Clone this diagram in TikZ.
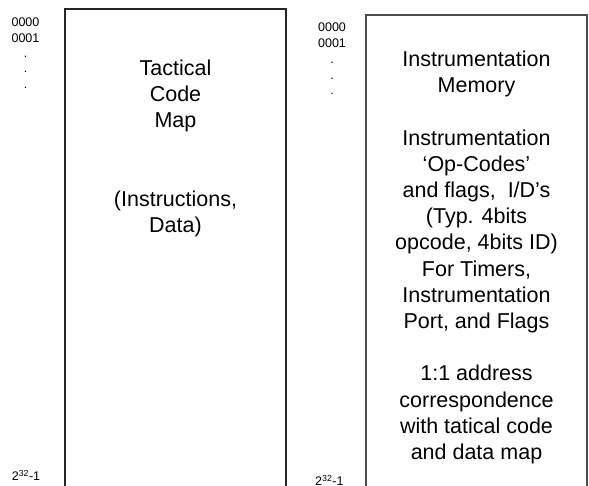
\documentclass[tikz,border=0pt]{standalone}
\usepackage{fontspec}
\setmainfont{Liberation Sans}
\begin{document}
\begin{tikzpicture}[x=1pt,y=-1pt,
  boxline/.style={line width=1.1pt,draw=black!85},
  bigtext/.style={font=\fontsize{21.5}{26.2}\selectfont,align=center,inner sep=0pt,anchor=north},
  addr/.style={font=\fontsize{12.5}{15.4}\selectfont,align=center,inner sep=0pt,anchor=north},
  addrend/.style={font=\fontsize{12.5}{15}\selectfont,inner sep=0pt,anchor=base west}]
\useasboundingbox (0,0) rectangle (589,485);
% boxes
\coordinate (b1bl) at (65,492);
\coordinate (b1tl) at (65,9);
\coordinate (b1tr) at (286,9);
\coordinate (b1br) at (286,492);
\coordinate (b2bl) at (366,492);
\coordinate (b2tl) at (366,15);
\coordinate (b2tr) at (587,15);
\coordinate (b2br) at (587,492);
\draw[boxline] (b1bl) -- (b1tl) -- (b1tr) -- (b1br);
\draw[boxline,draw=black!70] (b2bl) -- (b2tl) -- (b2tr) -- (b2br);
% box texts
\node[bigtext] (t1) at (175.5,59.6) {Tactical\\Code\\Map\\[52.4pt](Instructions,\\Data)};
\node[bigtext] (t2) at (476.5,50.7) {Instrumentation\\Memory\\[26.2pt]Instrumentation\\`Op-Codes'\\and flags,\ \ I/D's\\(Typ. 4bits\\opcode, 4bits ID)\\For Timers,\\Instrumentation\\Port, and Flags\\[26.2pt]1:1 address\\correspondence\\with tatical code\\and data map};
% address labels
\node[addr] (a1) at (25.5,17.7) {0000\\0001\\.\\.\\.};
\node[addr,font=\fontsize{12.5}{15.8}\selectfont] (a2) at (332,22.7) {0000\\0001\\.\\.\\.};
\node[addrend] (e1) at (11.7,480.7) {2\textsuperscript{32}-1};
\node[addrend] (e2) at (315,485.7) {2\textsuperscript{32}-1};
\end{tikzpicture}
\end{document}
